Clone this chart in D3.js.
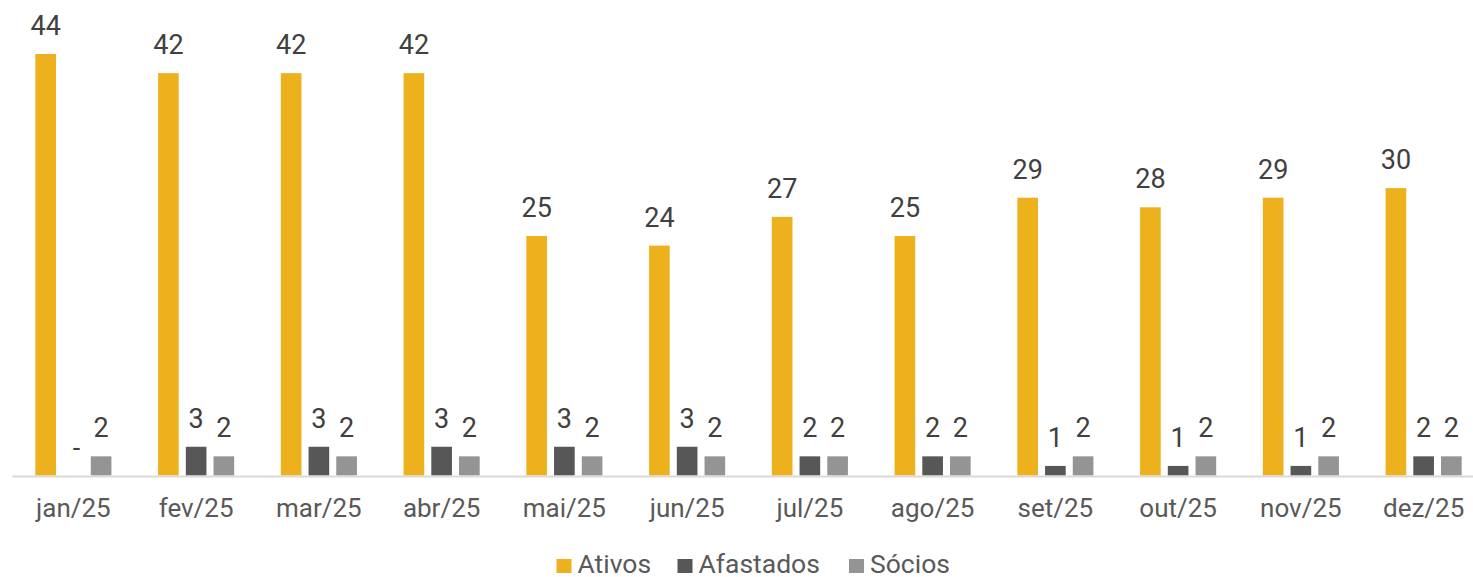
<!DOCTYPE html>
<html>
<head>
<meta charset="utf-8">
<script src="https://cdn.jsdelivr.net/npm/d3@7"></script>
<style>
  body { margin: 0; background: #fff; }
  svg { display: block; font-family: Roboto, "Noto Sans", sans-serif; }
</style>
</head>
<body>
<div id="chart"></div>
<script>
const months = ["jan/25", "fev/25", "mar/25", "abr/25", "mai/25", "jun/25",
                "jul/25", "ago/25", "set/25", "out/25", "nov/25", "dez/25"];
const seriesNames = ["Ativos", "Afastados", "Sócios"];
const ativos    = [44, 42, 42, 42, 25, 24, 27, 25, 29, 28, 29, 30];
const afastados = [0, 3, 3, 3, 3, 3, 2, 2, 1, 1, 1, 2];
const socios    = [2, 2, 2, 2, 2, 2, 2, 2, 2, 2, 2, 2];
const colors = ["#edb11e", "#575757", "#949494"];

const width = 1473;
const height = 577;
const margin = { left: 12, right: -12, top: 0, bottom: 101 };

const series = [ativos, afastados, socios];
const data = months.map((m, i) => ({ month: m, values: series.map((s, j) => ({ key: seriesNames[j], value: s[i], idx: j })) }));

const svg = d3.select("#chart").append("svg")
    .attr("width", width)
    .attr("height", height);

// plot runs a bit past the right edge, like the original crop
const x = d3.scaleBand()
    .domain(months)
    .range([margin.left, width - margin.right])
    .paddingInner(0.38)
    .paddingOuter(0.19);

const xs = d3.scaleBand()
    .domain(seriesNames)
    .range([0, x.bandwidth()])
    .paddingInner(0.255);

const baseY = height - margin.bottom - 0.5;
const y = d3.scaleLinear()
    .domain([0, 44])
    .range([baseY, 54]);

const groups = svg.append("g")
    .selectAll("g")
    .data(data)
    .join("g")
    .attr("transform", d => `translate(${x(d.month)},0)`);

groups.selectAll("rect")
    .data(d => d.values)
    .join("rect")
    .attr("x", d => xs(d.key))
    .attr("y", d => y(d.value))
    .attr("width", xs.bandwidth())
    .attr("height", d => baseY - y(d.value))
    .attr("fill", d => colors[d.idx]);

groups.selectAll("text")
    .data(d => d.values)
    .join("text")
    .attr("x", d => xs(d.key) + xs.bandwidth() / 2 + (d.value === 0 ? 3 : 0))
    .attr("y", d => y(d.value) - 19)
    .attr("text-anchor", "middle")
    .style("font-size", "27px")
    .style("fill", "#404040")
    .text(d => d.value === 0 ? "-" : d.value);

// x axis
const xAxis = svg.append("g")
    .attr("transform", `translate(0,${baseY + 0.5})`)
    .call(d3.axisBottom(x).tickSize(0).tickPadding(23));

xAxis.select(".domain")
    .attr("stroke", "#d9d9d9")
    .attr("stroke-width", 2);

xAxis.selectAll("text")
    .style("font-size", "26px")
    .style("font-family", "Roboto, sans-serif")
    .style("fill", "#595959");

// legend
const legendX = [556.5, 677.5, 849];
const legend = svg.append("g")
    .selectAll("g")
    .data(seriesNames)
    .join("g")
    .attr("transform", (d, i) => `translate(${legendX[i]},559)`);

legend.append("rect")
    .attr("width", 15)
    .attr("height", 14)
    .attr("fill", (d, i) => colors[i]);

legend.append("text")
    .attr("x", 21)
    .attr("y", 14)
    .style("font-size", "26.5px")
    .style("fill", "#595959")
    .text(d => d);
</script>
</body>
</html>
